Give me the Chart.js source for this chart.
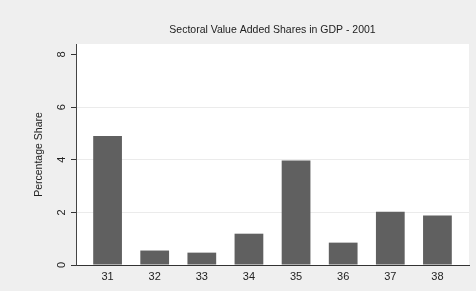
<!DOCTYPE html>
<html>
<head>
<meta charset="utf-8">
<script src="https://cdn.jsdelivr.net/npm/chart.js@4/dist/chart.umd.min.js"></script>
<style>
  html, body { margin: 0; padding: 0; background: #efefef; }
  #wrap { width: 476px; height: 291px; position: relative; }
</style>
</head>
<body>
<div id="wrap"><canvas id="c" width="476" height="291"></canvas></div>
<script>
const categories = [31, 32, 33, 34, 35, 36, 37, 38];
const shares = [4.9, 0.55, 0.47, 1.19, 3.97, 0.85, 2.02, 1.88];
const yTicks = [0, 2, 4, 6, 8];
const gridValues = [2, 4, 6];
const titleText = 'Sectoral Value Added Shares in GDP - 2001';
const yTitle = 'Percentage Share';

const bgPlugin = {
  id: 'bg',
  beforeDraw(chart) {
    const { ctx, chartArea: a } = chart;
    ctx.save();
    ctx.fillStyle = '#efefef';
    ctx.fillRect(0, 0, chart.width, chart.height);
    ctx.fillStyle = '#ffffff';
    ctx.fillRect(a.left, a.top, a.right - a.left, a.bottom - a.top);
    ctx.restore();
  }
};

new Chart(document.getElementById('c'), {
  type: 'bar',
  data: {
    datasets: [{
      data: categories.map((c, i) => ({ x: c, y: shares[i] })),
      backgroundColor: '#606060',
      borderWidth: 0,
      barPercentage: 0.61,
      categoryPercentage: 1
    }]
  },
  options: {
    responsive: false,
    animation: false,
    devicePixelRatio: 1,
    layout: { padding: { left: 0, right: 7, top: 0, bottom: 0 } },
    plugins: {
      legend: { display: false },
      tooltip: { enabled: false },
      title: {
        display: true,
        text: titleText,
        fullSize: false,
        color: '#222',
        font: { family: 'Liberation Sans, Arial, sans-serif', size: 10.5, weight: 'normal' },
        padding: { top: 24, bottom: 7.4 }
      }
    },
    scales: {
      x: {
        type: 'linear',
        min: 30.33,
        max: 38.67,
        offset: false,
        afterBuildTicks(s) { s.ticks = categories.map(v => ({ value: v })); },
        afterFit(s) { s.height = 26; },
        grid: { display: false, drawTicks: false },
        border: { display: true, color: '#333', width: 1 },
        ticks: {
          color: '#222',
          padding: 5,
          maxRotation: 0,
          autoSkip: false,
          font: { family: 'Liberation Sans, Arial, sans-serif', size: 11 }
        }
      },
      y: {
        min: 0,
        max: 8.4,
        afterBuildTicks(s) { s.ticks = yTicks.map(v => ({ value: v })); },
        afterFit(s) { s.width = 76; },
        grid: {
          color: ctx => (ctx.tick && gridValues.includes(ctx.tick.value)) ? '#ebebeb' : 'rgba(0,0,0,0)',
          tickColor: '#333',
          tickLength: 5,
          drawTicks: true,
          lineWidth: 1
        },
        border: { display: true, color: '#444', width: 1 },
        title: {
          display: true,
          text: yTitle,
          color: '#222',
          font: { family: 'Liberation Sans, Arial, sans-serif', size: 10.5 },
          padding: { top: 33, bottom: 0 }
        },
        ticks: {
          color: '#222',
          minRotation: 90,
          maxRotation: 90,
          crossAlign: 'center',
          padding: 6,
          font: { family: 'Liberation Sans, Arial, sans-serif', size: 11 }
        }
      }
    }
  },
  plugins: [bgPlugin]
});
</script>
</body>
</html>
